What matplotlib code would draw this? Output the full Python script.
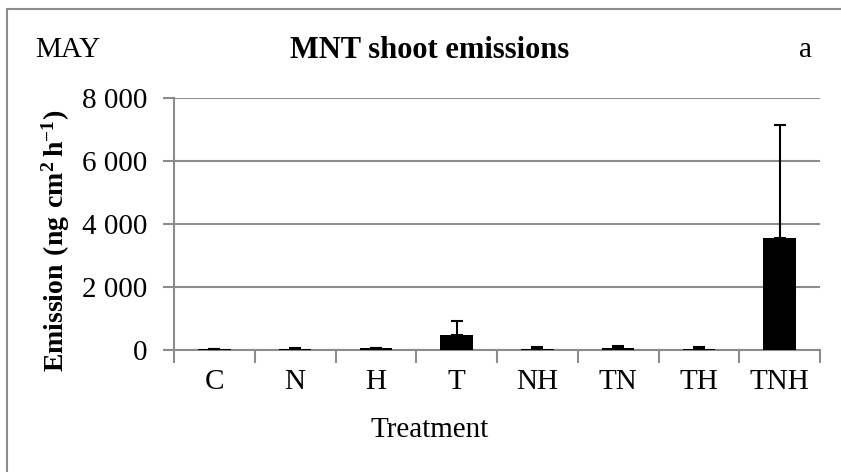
import numpy as np
import matplotlib
matplotlib.use("Agg")
import matplotlib.pyplot as plt
from matplotlib.patches import Rectangle
from matplotlib.ticker import FuncFormatter

plt.rcParams['font.family'] = ['Liberation Serif', 'DejaVu Serif']
plt.rcParams['mathtext.fontset'] = 'custom'
plt.rcParams['mathtext.rm'] = 'Liberation Serif'
plt.rcParams['mathtext.bf'] = 'Liberation Serif:bold'

# data
treatments = ["C", "N", "H", "T", "NH", "TN", "TH", "TNH"]
emission = [25, 40, 50, 470, 45, 60, 45, 3550]
emission_err = [10, 10, 25, 450, 35, 80, 45, 3580]
yticks = [0, 2000, 4000, 6000, 8000]

W, H = 841, 472
fig = plt.figure(figsize=(W / 100, H / 100), dpi=100)

# outer chart frame (cut off on the right and bottom)
fig.add_artist(Rectangle((7 / W, -0.1), 1.2, (H - 9) / H + 0.1,
                         transform=fig.transFigure, fill=False,
                         edgecolor="#8c8c8c", linewidth=1.5))

# plot area in pixels: x 174..820, y 98..350 (from top)
ax = fig.add_axes([174 / W, (H - 350) / H, 646 / W, 252 / H])

x = np.arange(len(treatments))
lower = np.zeros(len(treatments))
ax.bar(x, emission, width=0.4, color="black", zorder=3)
ax.errorbar(x, emission, yerr=[lower, emission_err], fmt="none",
            ecolor="black", elinewidth=1.5, capsize=4.5, capthick=1.5, zorder=4)

ax.set_xlim(-0.5, len(treatments) - 0.5)
ax.set_ylim(0, 8000)
ax.set_yticks(yticks)
ax.yaxis.set_major_formatter(FuncFormatter(lambda v, p: f"{int(v):,}".replace(",", " ")))
ax.grid(axis="y", color="#8c8c8c", linewidth=1.5, zorder=0)
ax.set_axisbelow(True)

ax.set_xticks(x)
ax.set_xticklabels(treatments)
ax.set_xticks(np.arange(len(treatments) + 1) - 0.5, minor=True)
ax.tick_params(axis="x", which="major", length=0, pad=14, labelsize=21)
ax.tick_params(axis="x", which="minor", length=9, width=1.5, color="#8c8c8c")
ax.tick_params(axis="y", length=8, width=1.5, color="#8c8c8c", labelsize=21, pad=11)

for side in ["top", "right"]:
    ax.spines[side].set_visible(False)
for side in ["left", "bottom"]:
    ax.spines[side].set_color("#8c8c8c")
    ax.spines[side].set_linewidth(1.5)

fig.text(430 / W, 1 - 430 / H, "Treatment", ha="center", va="center", fontsize=21)
fig.text(56 / W, 1 - 241 / H, r"$\mathbf{Emission\ (ng\ cm^{2}\,h^{-1})}$",
         rotation=90, ha="center", va="center", fontsize=20)
fig.text(430 / W, 1 - 50 / H, "MNT shoot emissions", ha="center", va="center",
         fontsize=22, fontweight="bold")
fig.text(35 / W, 1 - 50 / H, "MAY", ha="left", va="center", fontsize=21)
fig.text(805 / W, 1 - 50 / H, "a", ha="center", va="center", fontsize=21)

fig.savefig("out.png", dpi=100)
